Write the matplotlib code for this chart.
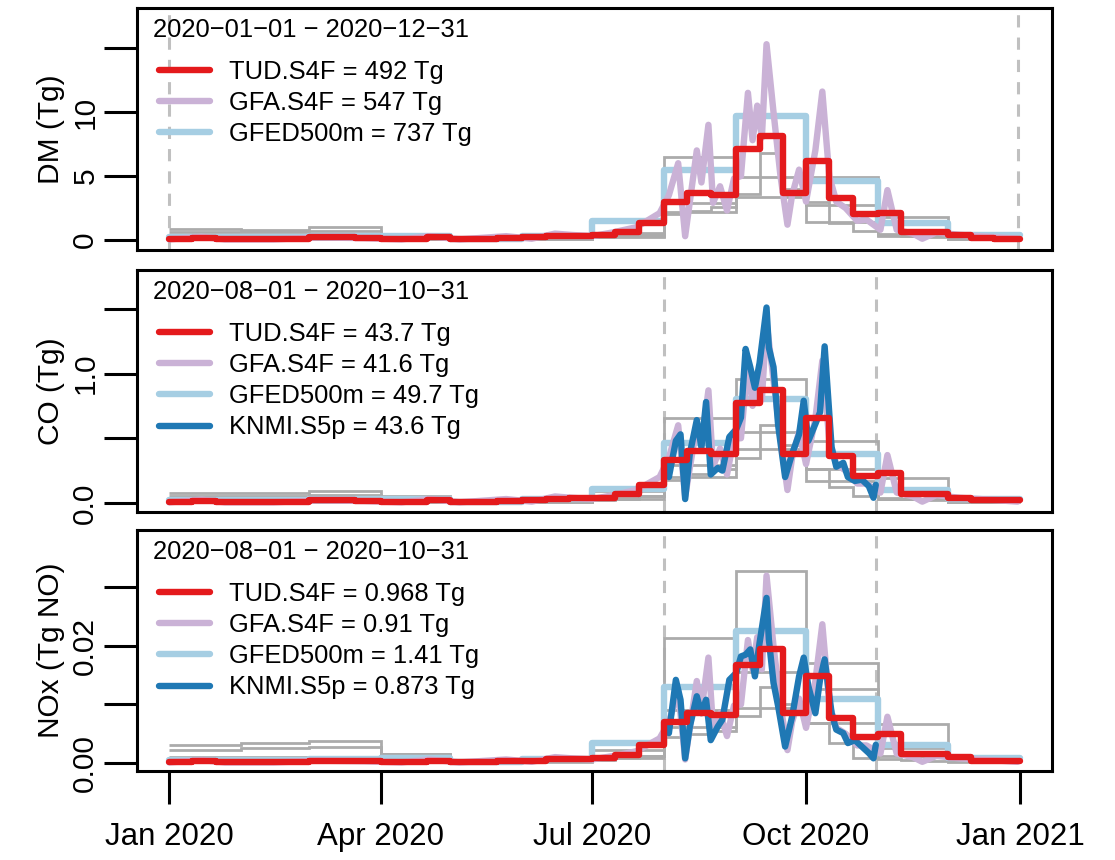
import numpy as np
import matplotlib
matplotlib.use('Agg')
import matplotlib.pyplot as plt
import matplotlib.dates as mdates
from matplotlib.lines import Line2D

plt.rcParams['font.family'] = ['Liberation Sans', 'DejaVu Sans']

# ---------------- data (Tg per day) ----------------
month_edges = ['2020-01-01', '2020-02-01', '2020-03-01', '2020-04-01', '2020-05-01',
               '2020-06-01', '2020-07-01', '2020-08-01', '2020-09-01', '2020-10-01',
               '2020-11-01', '2020-12-01', '2021-01-01']
dekad_edges = [f'2020-{m:02d}-{d:02d}' for m in range(1, 13) for d in (1, 11, 21)] + ['2021-01-01']

# TUD.S4F, dekadal
tud_dm = [0.08, 0.15, 0.1, 0.05, 0.05, 0.05, 0.2, 0.2, 0.15, 0.05, 0.05, 0.2,
          0.1, 0.1, 0.15, 0.2, 0.3, 0.35, 0.4, 0.6, 1.3, 3.0, 3.7, 3.5,
          7.1, 8.1, 3.7, 6.2, 3.3, 2.0, 2.1, 0.6, 0.6, 0.4, 0.15, 0.1]
tud_co = [0.008, 0.015, 0.01, 0.005, 0.005, 0.005, 0.02, 0.02, 0.015, 0.005, 0.005, 0.02,
          0.01, 0.01, 0.015, 0.02, 0.03, 0.035, 0.04, 0.07, 0.14, 0.33, 0.40, 0.38,
          0.77, 0.87, 0.38, 0.66, 0.36, 0.21, 0.23, 0.07, 0.07, 0.04, 0.02, 0.02]
tud_nox = [0.0002, 0.0003, 0.0002, 0.0001, 0.0001, 0.0001, 0.0004, 0.0004, 0.0003, 0.0001, 0.0001, 0.0004,
           0.0002, 0.0002, 0.0003, 0.0004, 0.0006, 0.0007, 0.0009, 0.0014, 0.003, 0.0070, 0.0086, 0.0082,
           0.0168, 0.0194, 0.0086, 0.0148, 0.0077, 0.0045, 0.005, 0.0015, 0.0015, 0.001, 0.0004, 0.0004]

# GFED500m, monthly
gfed_dm = [0.2, 0.2, 0.3, 0.35, 0.1, 0.3, 1.5, 5.5, 9.7, 4.6, 1.3, 0.4]
gfed_co = [0.02, 0.02, 0.03, 0.03, 0.01, 0.03, 0.11, 0.46, 0.80, 0.38, 0.10, 0.03]
gfed_nox = [0.0005, 0.0005, 0.0007, 0.0008, 0.0002, 0.0007, 0.0034, 0.0130, 0.0226, 0.0110, 0.0030, 0.0009]

# GFA.S4F, daily (turning points)
gfa_dates = ['2020-01-01', '2020-01-15', '2020-01-25', '2020-02-15', '2020-03-05', '2020-03-25',
             '2020-04-10', '2020-04-22', '2020-05-05', '2020-05-25', '2020-06-05', '2020-06-15',
             '2020-06-22', '2020-07-01', '2020-07-10', '2020-07-20', '2020-07-30', '2020-08-03',
             '2020-08-07', '2020-08-10', '2020-08-15', '2020-08-17', '2020-08-20', '2020-08-22',
             '2020-08-25', '2020-08-28', '2020-08-31', '2020-09-03', '2020-09-06', '2020-09-08',
             '2020-09-10', '2020-09-12', '2020-09-14', '2020-09-17', '2020-09-20', '2020-09-23',
             '2020-09-25', '2020-09-28', '2020-10-01', '2020-10-05', '2020-10-08', '2020-10-11',
             '2020-10-14', '2020-10-18', '2020-10-23', '2020-10-27', '2020-11-02', '2020-11-05',
             '2020-11-09', '2020-11-16', '2020-11-20', '2020-11-26', '2020-12-06', '2020-12-15',
             '2020-12-31']
gfa_dm = [0.05, 0.25, 0.05, 0.05, 0.2, 0.15, 0.05, 0.3, 0.05, 0.3, 0.1, 0.5,
          0.4, 0.3, 0.6, 1.0, 2.1, 3.5, 6.0, 0.3, 7.0, 4.5, 9.0, 2.9,
          4.2, 2.3, 4.8, 5.0, 11.5, 7.8, 10.5, 8.0, 15.3, 10.0, 5.0, 1.2,
          3.5, 5.5, 3.0, 7.0, 11.6, 5.0, 3.0, 2.5, 1.5, 1.6, 0.8, 3.9,
          0.8, 0.5, 0.1, 0.6, 0.4, 0.3, 0.1]
gfa_co = [0.005, 0.025, 0.005, 0.005, 0.02, 0.015, 0.005, 0.03, 0.005, 0.03, 0.01, 0.05,
          0.04, 0.03, 0.06, 0.1, 0.2, 0.35, 0.6, 0.05, 0.6, 0.45, 0.87, 0.28,
          0.42, 0.22, 0.5, 0.5, 1.1, 0.75, 1.0, 0.8, 1.4, 0.95, 0.5, 0.1,
          0.35, 0.55, 0.3, 0.65, 1.1, 0.48, 0.3, 0.25, 0.15, 0.15, 0.08, 0.37,
          0.08, 0.05, 0.01, 0.06, 0.04, 0.03, 0.01]
gfa_nox = [0.0001, 0.0005, 0.0001, 0.0001, 0.0004, 0.0003, 0.0001, 0.0006, 0.0001, 0.0006, 0.0002, 0.001,
           0.0008, 0.0006, 0.0012, 0.002, 0.0042, 0.007, 0.0123, 0.0006, 0.014, 0.009, 0.018, 0.006,
           0.0085, 0.0046, 0.0098, 0.010, 0.021, 0.016, 0.0215, 0.016, 0.032, 0.020, 0.010, 0.0022,
           0.007, 0.011, 0.006, 0.014, 0.0237, 0.010, 0.006, 0.005, 0.003, 0.003, 0.0016, 0.0079,
           0.0016, 0.001, 0.0002, 0.0012, 0.0008, 0.0006, 0.0002]

# KNMI.S5p, daily, Aug-Oct only (turning points)
knmi_dates = ['2020-08-01', '2020-08-03', '2020-08-06', '2020-08-08', '2020-08-10', '2020-08-12',
              '2020-08-15', '2020-08-17', '2020-08-19', '2020-08-21', '2020-08-24', '2020-08-26',
              '2020-08-29', '2020-09-01', '2020-09-03', '2020-09-05', '2020-09-07', '2020-09-09',
              '2020-09-11', '2020-09-14', '2020-09-15', '2020-09-17', '2020-09-19', '2020-09-22',
              '2020-09-25', '2020-09-28', '2020-09-30', '2020-10-02', '2020-10-05', '2020-10-07',
              '2020-10-09', '2020-10-12', '2020-10-14', '2020-10-17', '2020-10-19', '2020-10-22',
              '2020-10-25', '2020-10-28', '2020-10-30', '2020-10-31']
knmi_co = [0.33, 0.20, 0.48, 0.53, 0.03, 0.38, 0.64, 0.43, 0.78, 0.22, 0.27, 0.25,
           0.51, 0.57, 0.66, 1.19, 1.05, 0.89, 1.08, 1.51, 1.20, 1.05, 0.60, 0.20,
           0.38, 0.53, 0.79, 0.48, 0.61, 0.70, 1.21, 0.43, 0.28, 0.31, 0.20, 0.17,
           0.18, 0.13, 0.04, 0.14]
knmi_nox = [0.0062, 0.0051, 0.0142, 0.0108, 0.0008, 0.0062, 0.0114, 0.0085, 0.0108, 0.0039, 0.0062, 0.0074,
            0.0142, 0.0154, 0.0182, 0.0185, 0.0194, 0.0148, 0.0205, 0.0282, 0.0211, 0.0137, 0.0097, 0.0028,
            0.0079, 0.0148, 0.0180, 0.0131, 0.0085, 0.0142, 0.0177, 0.0085, 0.0057, 0.0051, 0.0034, 0.0039,
            0.0028, 0.0017, 0.0008, 0.0031]

# other inventories (grey): three monthly, one dekadal
grey_dm_m = [[0.9, 0.8, 1.0, 0.45, 0.2, 0.15, 0.55, 6.5, 9.7, 4.9, 1.8, 0.3],
             [0.6, 0.6, 0.7, 0.3, 0.1, 0.1, 0.3, 2.9, 3.4, 2.7, 0.4, 0.1],
             [0.3, 0.3, 0.4, 0.2, 0.1, 0.1, 0.2, 2.2, 4.9, 1.4, 0.3, 0.1]]
grey_dm_d = [0.1, 0.1, 0.1, 0.1, 0.1, 0.1, 0.1, 0.1, 0.1, 0.1, 0.1, 0.1,
             0.1, 0.1, 0.1, 0.1, 0.1, 0.1, 0.2, 0.3, 0.5, 2.0, 2.3, 2.6,
             3.6, 6.8, 4.0, 3.0, 1.3, 0.7, 0.5, 0.3, 0.2, 0.1, 0.1, 0.1]
grey_co_m = [[0.08, 0.08, 0.09, 0.05, 0.015, 0.015, 0.09, 0.66, 0.96, 0.48, 0.19, 0.02],
             [0.05, 0.05, 0.06, 0.03, 0.01, 0.01, 0.05, 0.29, 0.42, 0.26, 0.03, 0.01],
             [0.02, 0.02, 0.03, 0.02, 0.01, 0.01, 0.03, 0.20, 0.55, 0.17, 0.03, 0.01]]
grey_co_d = [0.01, 0.01, 0.01, 0.01, 0.01, 0.01, 0.01, 0.01, 0.01, 0.01, 0.01, 0.01,
             0.01, 0.01, 0.01, 0.01, 0.01, 0.01, 0.02, 0.03, 0.05, 0.18, 0.22, 0.26,
             0.35, 0.60, 0.45, 0.26, 0.12, 0.05, 0.04, 0.03, 0.02, 0.01, 0.01, 0.01]
grey_nox_m = [[0.0031, 0.0034, 0.0037, 0.0015, 0.0004, 0.0004, 0.0022, 0.0213, 0.0328, 0.0171, 0.0066, 0.0005],
              [0.0022, 0.0025, 0.0028, 0.0015, 0.0003, 0.0003, 0.0012, 0.0091, 0.0155, 0.0127, 0.0025, 0.0004],
              [0.0010, 0.0010, 0.0010, 0.0008, 0.0002, 0.0002, 0.0008, 0.0062, 0.0094, 0.0069, 0.0012, 0.0002]]
grey_nox_d = [0.0003, 0.0003, 0.0003, 0.0003, 0.0003, 0.0003, 0.0003, 0.0003, 0.0003, 0.0003, 0.0003, 0.0003,
              0.0003, 0.0003, 0.0003, 0.0003, 0.0003, 0.0003, 0.0005, 0.0008, 0.0012, 0.0045, 0.0050, 0.0055,
              0.0080, 0.0130, 0.0100, 0.0069, 0.0034, 0.0008, 0.0006, 0.0005, 0.0004, 0.0003, 0.0002, 0.0002]

ylabels = ['DM (Tg)', 'CO (Tg)', 'NOx (Tg NO)']
periods = [('2020-01-01', '2020-12-31'), ('2020-08-01', '2020-10-31'), ('2020-08-01', '2020-10-31')]
names = ['TUD.S4F', 'GFA.S4F', 'GFED500m', 'KNMI.S5p']
totals = [['492', '547', '737'], ['43.7', '41.6', '49.7', '43.6'], ['0.968', '0.91', '1.41', '0.873']]
yticks = [[0, 5, 10, 15], [0, 0.5, 1.0, 1.5], [0, 0.01, 0.02, 0.03]]
yticklabels = [['0', '5', '10', ''], ['0.0', '', '1.0', ''], ['0.00', '', '0.02', '']]
xtick_dates = ['2020-01-01', '2020-04-01', '2020-07-01', '2020-10-01', '2021-01-01']
xtick_labels = ['Jan 2020', 'Apr 2020', 'Jul 2020', 'Oct 2020', 'Jan 2021']

tud = [tud_dm, tud_co, tud_nox]
gfed = [gfed_dm, gfed_co, gfed_nox]
gfa = [gfa_dm, gfa_co, gfa_nox]
knmi = [None, knmi_co, knmi_nox]
grey_m = [grey_dm_m, grey_co_m, grey_nox_m]
grey_d = [grey_dm_d, grey_co_d, grey_nox_d]

# ---------------- styling ----------------
c_tud, c_gfa, c_gfed, c_knmi, c_grey = '#E41A1C', '#CAB2D6', '#A6CEE3', '#1F78B4', '#ABABAB'
lw_main, lw_grey = 4.6, 2.0

W, H = 1115, 860
left_px, right_px = 137, 1052
panel_px = [(8, 250), (270, 512), (530, 771)]
ylims = [(-0.78, 18.13), (-0.07, 1.80), (-0.00137, 0.0398)]

def dn(d):
    return mdates.date2num(np.array(d, dtype='datetime64[D]'))

m_edges = dn(month_edges)
d_edges = dn(dekad_edges)
x_start = dn('2020-01-01')
xlim = (x_start - 13.8, x_start + 379.8)

fig = plt.figure(figsize=(W / 100, H / 100), dpi=100)

for i, (top, bot) in enumerate(panel_px):
    ax = fig.add_axes([left_px / W, 1 - bot / H, (right_px - left_px) / W, (bot - top) / H])

    for p in periods[i]:
        ax.axvline(dn(p), color='#C0C0C0', lw=2.2, ls=(0, (4, 3.3)), zorder=1)

    for g in grey_m[i]:
        ax.stairs(g, m_edges, baseline=None, color=c_grey, lw=lw_grey, zorder=2)
    ax.stairs(grey_d[i], d_edges, baseline=None, color=c_grey, lw=lw_grey, zorder=2)

    ax.stairs(gfed[i], m_edges, baseline=None, color=c_gfed, lw=lw_main, zorder=3,
              joinstyle='round', capstyle='round')
    ax.plot(dn(gfa_dates), gfa[i], color=c_gfa, lw=lw_main, zorder=4,
            solid_joinstyle='round', solid_capstyle='round')
    if knmi[i] is not None:
        ax.plot(dn(knmi_dates), knmi[i], color=c_knmi, lw=lw_main, zorder=5,
                solid_joinstyle='round', solid_capstyle='round')
    ax.stairs(tud[i], d_edges, baseline=None, color=c_tud, lw=lw_main, zorder=6,
              joinstyle='round', capstyle='round')

    ax.set_xlim(*xlim)
    ax.set_ylim(*ylims[i])

    for s in ax.spines.values():
        s.set_linewidth(2.2)
    ax.set_yticks(yticks[i])
    ax.set_yticklabels(yticklabels[i], rotation=90, va='center')
    ax.tick_params(axis='y', direction='out', length=23.5, width=2.2, labelsize=21.5, pad=3.6)
    ax.set_ylabel(ylabels[i], fontsize=21.5)
    ax.yaxis.set_label_coords(-0.0787, 0.5)

    if i == 2:
        ax.set_xticks(dn(xtick_dates))
        ax.set_xticklabels(xtick_labels)
        ax.tick_params(axis='x', direction='out', length=23.5, width=2.2, labelsize=22.5, pad=13)
    else:
        ax.tick_params(axis='x', bottom=False, labelbottom=False)

    h_px = bot - top
    period_txt = (periods[i][0] + ' - ' + periods[i][1]).replace('-', '\u2212')
    ax.text(16 / (right_px - left_px), 1 - 22 / h_px, period_txt, transform=ax.transAxes,
            fontsize=18.4, ha='left', va='center')

    n = 3 if knmi[i] is None else 4
    colors = [c_tud, c_gfa, c_gfed, c_knmi][:n]
    handles = [Line2D([], [], color=c, lw=lw_main, solid_capstyle='round') for c in colors]
    labels = [f'{names[k]} = {totals[i][k]} Tg' for k in range(n)]
    ax.legend(handles, labels, loc='upper left',
              bbox_to_anchor=(22 / (right_px - left_px), 1 - 52 / h_px),
              frameon=False, fontsize=18.4, borderpad=0, borderaxespad=0,
              handlelength=2.0, handletextpad=0.72, labelspacing=0.28)

fig.savefig('out.png', dpi=100)
